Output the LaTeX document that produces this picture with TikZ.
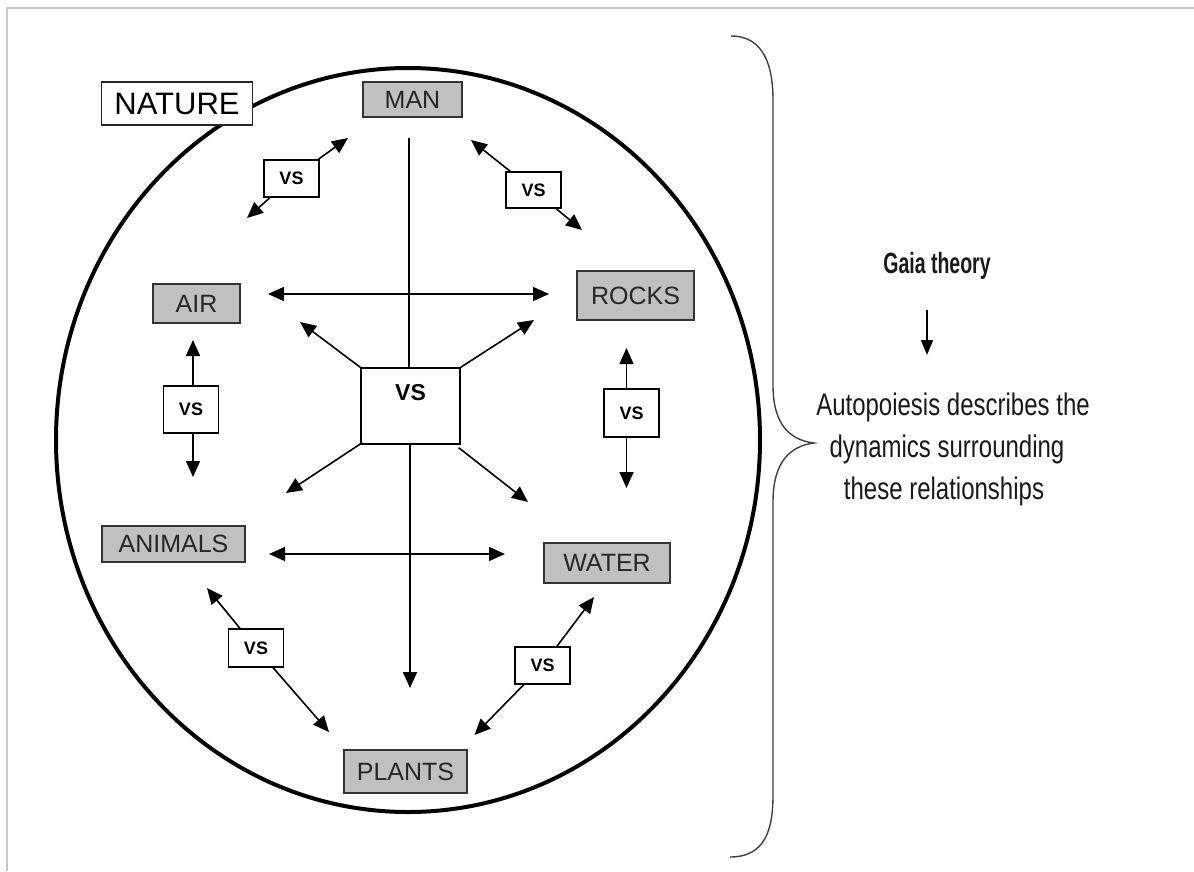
\documentclass[tikz,border=0pt]{standalone}
\usepackage{fontspec}
\setmainfont{Liberation Sans}
\usetikzlibrary{arrows.meta,calc}
\definecolor{boxgray}{HTML}{C0C0C0}
\definecolor{framegray}{HTML}{C8C8C8}
\begin{document}
\begin{tikzpicture}[x=1pt,y=-1pt,
  gbox/.style={draw=black!80, line width=1.3pt, fill=boxgray, inner sep=0pt, font=\fontsize{25}{25}\selectfont, text=black!85},
  vsbox/.style={draw=black, line width=1.3pt, fill=white, inner sep=0pt, font=\bfseries\fontsize{18}{18}\selectfont},
  arr/.style={line width=1.6pt, -{Triangle[length=16pt,width=14pt]}},
  darr/.style={line width=1.6pt, {Triangle[length=16pt,width=14pt]}-{Triangle[length=16pt,width=14pt]}},
  plain/.style={line width=1.6pt},
  sidetext/.style={font=\fontsize{24}{24}\selectfont, anchor=base, inner sep=0pt, text=black!90},
]
\useasboundingbox (0,0) rectangle (1194,871);
% frame
\draw[framegray, line width=1.5pt] (7,871) -- (7,8) -- (1194,8);
% big ellipse
\draw[line width=4pt] (408,440) ellipse [x radius=352pt, y radius=372pt];
% NATURE label
\node[draw=black!85, line width=1.5pt, fill=white, inner sep=0pt, minimum width=151pt, minimum height=43pt, font=\fontsize{31}{31}\selectfont] (nature) at (177,103.5) {NATURE};
% gray boxes
\node[gbox, minimum width=99pt, minimum height=35pt] (man) at (412.5,99.5) {MAN};
\node[gbox, minimum width=117pt, minimum height=49pt] (rocks) at (635.5,295.5) {ROCKS};
\node[gbox, minimum width=87pt, minimum height=39pt] (air) at (196.5,303.5) {AIR};
\node[gbox, minimum width=143pt, minimum height=36pt] (animals) at (173.5,544) {ANIMALS};
\node[gbox, minimum width=126pt, minimum height=40pt] (water) at (607,563) {WATER};
\node[gbox, minimum width=123pt, minimum height=43pt] (plants) at (405.5,771.5) {PLANTS};
% central VS
\node[vsbox, minimum width=99pt, minimum height=76pt, font=\bfseries\fontsize{23}{23}\selectfont] (vsc) at (410.5,406) {\raisebox{6pt}[0pt][0pt]{VS}};
% small VS boxes
\node[vsbox, minimum width=55pt, minimum height=37pt] (vs1) at (291.5,178.5) {VS};
\node[vsbox, minimum width=55pt, minimum height=36pt] (vs2) at (533.5,190) {VS};
\node[vsbox, minimum width=55pt, minimum height=47pt] (vs3) at (191,409.5) {VS};
\node[vsbox, minimum width=55pt, minimum height=48pt] (vs4) at (631.5,413) {VS};
\node[vsbox, minimum width=55pt, minimum height=38pt] (vs5) at (256,648) {VS};
\node[vsbox, minimum width=55pt, minimum height=37pt] (vs6) at (542.5,665.5) {VS};
% free ends
\coordinate (vt) at (409,138);
\coordinate (vb) at (410,688);
\coordinate (h1l) at (268,294);
\coordinate (h1r) at (549,294);
\coordinate (h2l) at (269,554);
\coordinate (h2r) at (505,554);
\coordinate (c1) at (300,322);
\coordinate (c2) at (534,320);
\coordinate (c3) at (286,493);
\coordinate (c4) at (528,502);
\coordinate (a1) at (348,138);
\coordinate (a2) at (247,218);
\coordinate (b1) at (471,140);
\coordinate (b2) at (582,230);
\coordinate (l1) at (193,340);
\coordinate (l2) at (193,477);
\coordinate (r1) at (626.5,348);
\coordinate (r2) at (626.5,488);
\coordinate (d1) at (207,588);
\coordinate (d2) at (329,732);
\coordinate (e1) at (594,597);
\coordinate (e2) at (474.5,735);
% central cross
\draw[plain] (vt) -- (vt |- vsc.north);
\draw[arr] (vsc.south -| vb) -- (vb);
\draw[darr] (h1l) -- (h1r);
\draw[darr] (h2l) -- (h2r);
% central diagonals
\draw[arr] (vsc.north west) -- (c1);
\draw[arr] (vsc.north east) -- (c2);
\draw[arr] ($(vsc.south west)+(2,-2)$) -- (c3);
\draw[arr] ($(vsc.south east)+(-2,3)$) -- (c4);
% small VS arrows
\draw[arr] (vs1) -- (a1);
\draw[arr] (vs1) -- (a2);
\draw[arr] (vs2) -- (b1);
\draw[arr] (vs2) -- (b2);
\draw[arr] (l1 |- vs3.north) -- (l1);
\draw[arr] (l2 |- vs3.south) -- (l2);
\draw[arr] (r1 |- vs4.north) -- (r1);
\draw[arr] (r2 |- vs4.south) -- (r2);
\draw[arr] (vs5) -- (d1);
\draw[arr] (vs5) -- (d2);
\draw[arr] (vs6) -- (e1);
\draw[arr] (vs6) -- (e2);
% brace
\draw[black!75, line width=1.4pt] (731,36) .. controls (765,36) and (773,68) .. (773,100) -- (773,385) .. controls (773,425) and (790,440) .. (814,443) .. controls (790,446) and (773,462) .. (773,502) -- (773,795) .. controls (773,830) and (765,857) .. (730,857);
% right side texts
\node[sidetext, font=\bfseries\fontsize{19.5}{19.5}\selectfont] (gaia) at (937,273) {\scalebox{1}[1.5]{Gaia theory}};
\coordinate (g1) at (927,310);
\coordinate (g2) at (927,355);
\draw[line width=1.5pt, -{Triangle[length=15pt,width=12pt]}] (g1) -- (g2);
\node[sidetext] (auto1) at (953,415) {\scalebox{1}[1.3]{Autopoiesis describes the}};
\node[sidetext] (auto2) at (947,457) {\scalebox{1}[1.3]{dynamics surrounding}};
\node[sidetext] (auto3) at (944,499) {\scalebox{1}[1.3]{these relationships}};
\end{tikzpicture}
\end{document}
